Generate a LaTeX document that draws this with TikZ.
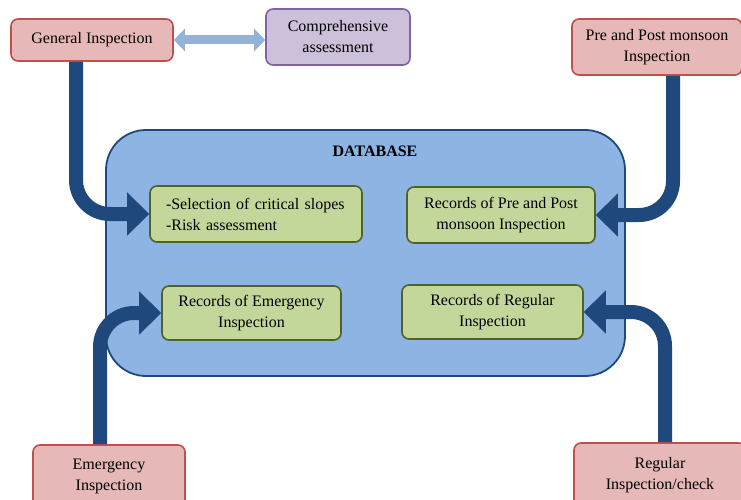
\documentclass[tikz,border=0pt]{standalone}
\usepackage{fontspec}
\setmainfont{Liberation Serif}
\usetikzlibrary{arrows.meta}
\definecolor{pinkfill}{HTML}{E6B9B8}
\definecolor{pinkdraw}{HTML}{C0504D}
\definecolor{purpfill}{HTML}{CCC0DA}
\definecolor{purpdraw}{HTML}{8064A2}
\definecolor{dbfill}{HTML}{8DB4E2}
\definecolor{dbdraw}{HTML}{1F497D}
\definecolor{grfill}{HTML}{C4D79B}
\definecolor{grdraw}{HTML}{4F6228}
\definecolor{arrdark}{HTML}{1F497D}
\definecolor{arrlight}{HTML}{95B3D7}
\tikzset{
  every node/.style={font=\fontsize{16}{21}\selectfont},
  pinkbox/.style={draw=pinkdraw, line width=1.6pt, fill=pinkfill, rounded corners=7pt, align=center, inner sep=0pt},
  purpbox/.style={draw=purpdraw, line width=1.6pt, fill=purpfill, rounded corners=7pt, align=center, inner sep=0pt},
  greenbox/.style={draw=grdraw, line width=1.6pt, fill=grfill, rounded corners=7pt, align=center, inner sep=0pt},
  bigarrow/.style={draw=arrdark, line width=14pt, rounded corners=34pt, -{Triangle[width=42pt,length=22pt]}},
  dblarrow/.style={draw=arrlight, line width=9pt, {Triangle[width=22pt,length=11pt]}-{Triangle[width=22pt,length=11pt]}}
}
\begin{document}
\begin{tikzpicture}[x=1pt,y=-1pt]
\useasboundingbox (0,0) rectangle (741,500);
\fill[white] (0,0) rectangle (741,500);
% database
\node[draw=dbdraw, line width=1.8pt, fill=dbfill, rounded corners=40pt, minimum width=519pt, minimum height=246pt, inner sep=0pt] (db) at (365.5,253) {};
\node[font=\fontsize{16}{21}\selectfont\bfseries] (dbt) at (375,151) {DATABASE};
% top boxes
\node[pinkbox, minimum width=162pt, minimum height=42pt] (gi) at (92,40) {General Inspection};
\node[purpbox, minimum width=144pt, minimum height=56pt] (ca) at (338,37) {Comprehensive\\assessment};
\node[pinkbox, minimum width=170pt, minimum height=56pt] (pp) at (657,47) {Pre and Post monsoon\\Inspection};
% bottom boxes
\node[pinkbox, minimum width=152pt, minimum height=62pt] (em) at (109,476) {Emergency\\Inspection};
\node[pinkbox, minimum width=172pt, minimum height=64pt] (rg) at (660,475) {Regular\\Inspection/check};
% green boxes
\node[greenbox, text width=180pt, inner xsep=16pt, minimum height=56pt, align=left] (b1) at (256,214) {-Selection of critical slopes\\-Risk assessment};
\node[greenbox, minimum width=188pt, minimum height=56pt] (b2) at (501,215) {Records of Pre and Post\\monsoon Inspection};
\node[greenbox, minimum width=179pt, minimum height=54pt] (b3) at (251.5,313) {Records of Emergency\\Inspection};
\node[greenbox, minimum width=181pt, minimum height=54pt] (b4) at (492.5,312) {Records of Regular\\Inspection};
% arrows
\draw[dblarrow] (gi.east) -- (gi.east -| ca.west);
\draw[bigarrow] ([xshift=-16pt]gi.south) |- (b1.west);
\draw[bigarrow] ([xshift=16pt]pp.south) |- (b2.east);
\draw[bigarrow] ([xshift=-9pt]em.north) |- (b3.west);
\draw[bigarrow] ([xshift=5pt]rg.north) |- (b4.east);
\end{tikzpicture}
\end{document}
